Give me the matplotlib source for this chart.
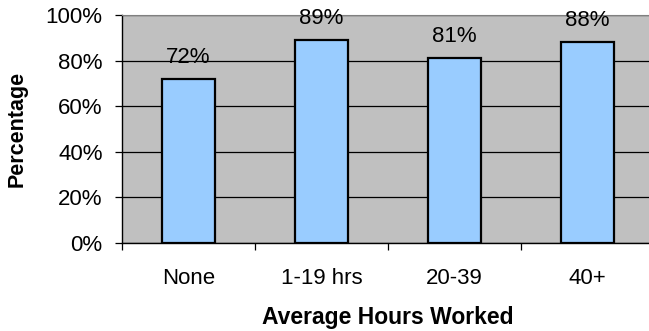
import numpy as np
import matplotlib.pyplot as plt

plt.rcParams['font.family'] = ['Liberation Sans', 'DejaVu Sans']

categorias = ["None", "1-19 hrs", "20-39", "40+"]
porcentajes = [72, 89, 81, 88]
etiquetas_y = ["0%", "20%", "40%", "60%", "80%", "100%"]

fig = plt.figure(figsize=(6.49, 3.31), dpi=100)
ax = fig.add_axes([122/649, 88/331, 532/649, 228/331])
ax.set_facecolor("#C0C0C0")

x = np.arange(len(categorias)) + 0.5
ax.bar(x, porcentajes, width=0.4, color="#99CCFF", edgecolor="black", linewidth=1.6, zorder=3)

for xi, v in zip(x, porcentajes):
    ax.annotate(f"{v}%", (xi, v), xytext=(0, 11.5), textcoords="offset points",
                ha="center", va="baseline", fontsize=16, zorder=4)

ax.set_xlim(0, 4)
ax.set_ylim(0, 100)
ax.set_yticks(range(0, 101, 20))
ax.set_yticklabels(etiquetas_y, fontsize=16)
ax.yaxis.grid(True, color="black", linewidth=0.9, zorder=1)
ax.set_axisbelow(True)

# separadores entre categorias y etiquetas centradas
ax.set_xticks([0, 1, 2, 3, 4])
ax.set_xticklabels([])
ax.set_xticks(x, minor=True)
ax.set_xticklabels(categorias, minor=True, fontsize=16)
ax.tick_params(axis="x", which="minor", length=0, pad=18)
ax.tick_params(axis="x", which="major", length=5, width=0.9, direction="out")
ax.tick_params(axis="y", length=5, width=0.9, pad=9)

ax.spines["left"].set_linewidth(1)
ax.spines["bottom"].set_linewidth(1)
ax.spines["top"].set_color("#808080")
ax.spines["right"].set_visible(False)

ax.set_ylabel("Percentage", fontsize=15.5, fontweight="bold", labelpad=13)
ax.set_xlabel("Average Hours Worked", fontsize=16.5, fontweight="bold", labelpad=12)

plt.savefig("out.png", dpi=100)
